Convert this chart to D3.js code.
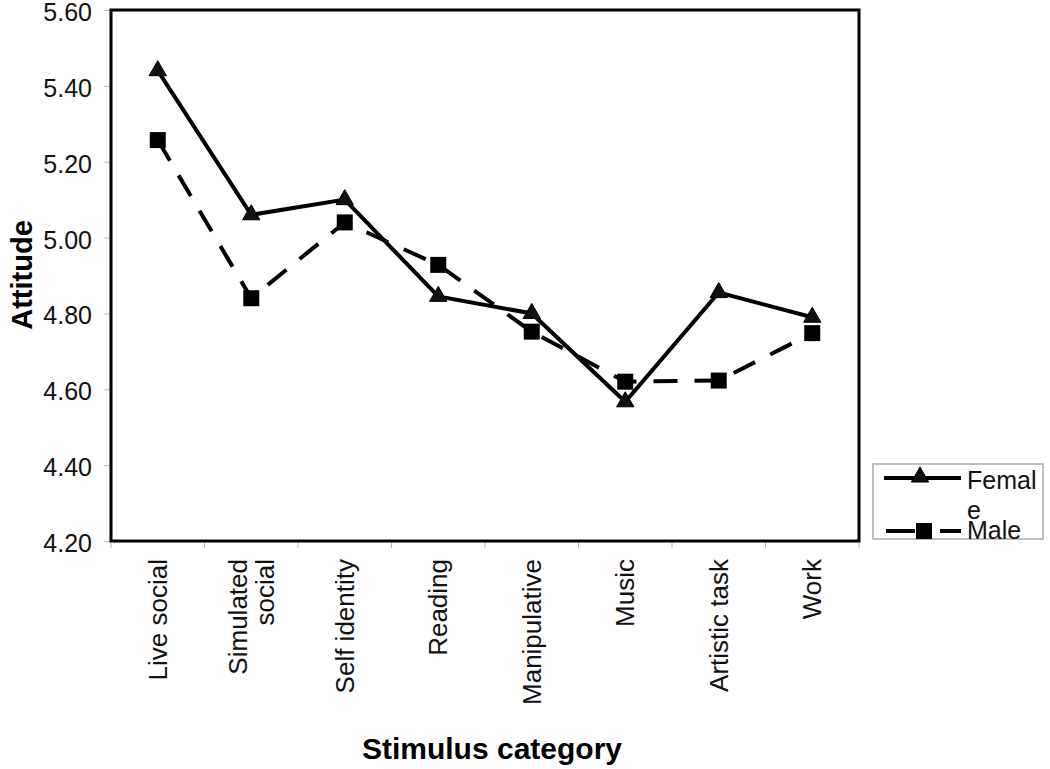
<!DOCTYPE html>
<html>
<head>
<meta charset="utf-8">
<script src="https://cdn.jsdelivr.net/npm/d3@7"></script>
<style>
  html, body { margin: 0; padding: 0; background: #fff; }
  svg { display: block; font-family: "Liberation Sans", Arial, sans-serif; }
</style>
</head>
<body>
<svg id="chart" width="1050" height="769"></svg>
<script>
const categories = [["Live social"], ["Simulated", "social"], ["Self identity"], ["Reading"], ["Manipulative"], ["Music"], ["Artistic task"], ["Work"]];
const categoryKeys = ["Live social", "Simulated social", "Self identity", "Reading", "Manipulative", "Music", "Artistic task", "Work"];
const femaleValues = [5.44, 5.06, 5.10, 4.845, 4.80, 4.567, 4.855, 4.79];
const maleValues = [5.257, 4.84, 5.04, 4.928, 4.752, 4.62, 4.623, 4.748];
const yTicks = [4.20, 4.40, 4.60, 4.80, 5.00, 5.20, 5.40, 5.60];
const seriesNames = ["Femal", "Male"];

const svg = d3.select("#chart");
const plot = { left: 111, top: 10, right: 859, bottom: 541 };

const x = d3.scaleBand().domain(categoryKeys).range([plot.left, plot.right]).padding(0);
const y = d3.scaleLinear().domain([4.2, 5.6]).range([plot.bottom, plot.top]);

// Y axis ticks and labels
const yAxis = d3.axisLeft(y).tickValues(yTicks).tickFormat(d3.format(".2f")).tickSize(7).tickPadding(12);
const gy = svg.append("g").attr("transform", `translate(${plot.left},0)`).call(yAxis);
gy.select(".domain").remove();
gy.selectAll(".tick line").attr("stroke", "#bbb").attr("stroke-width", 1);
gy.selectAll(".tick text").attr("font-size", 25).attr("fill", "#111").attr("dy", "0.42em")
  .attr("font-family", "'Liberation Sans', Arial, sans-serif");

// X axis ticks at band boundaries
const xAxis = d3.axisBottom(x).tickSize(0).tickFormat("");
const gx = svg.append("g").attr("transform", `translate(0,${plot.bottom})`).call(xAxis);
gx.select(".domain").remove();
gx.selectAll(".tick").remove();
const boundaries = categoryKeys.map(c => x(c)).concat([x(categoryKeys[categoryKeys.length - 1]) + x.bandwidth()]);
gx.selectAll("line.bt").data(boundaries).enter().append("line")
  .attr("x1", d => d).attr("x2", d => d).attr("y1", 0).attr("y2", 7)
  .attr("stroke", "#bbb").attr("stroke-width", 1);

// Category labels (rotated, wrapped)
const labelG = svg.append("g");
categories.forEach((lines, i) => {
  const cx = x(categoryKeys[i]) + x.bandwidth() / 2;
  const n = lines.length;
  const lh = 27;
  lines.forEach((ln, j) => {
    const off = (j - (n - 1) / 2) * lh;
    labelG.append("text")
      .attr("transform", `translate(${cx + off + 9},559) rotate(-90)`)
      .attr("text-anchor", "end")
      .attr("font-size", 26)
      .attr("fill", "#111")
      .text(ln);
  });
});

// Plot frame
svg.append("rect")
  .attr("x", plot.left).attr("y", plot.top)
  .attr("width", plot.right - plot.left).attr("height", plot.bottom - plot.top)
  .attr("fill", "none").attr("stroke", "#000").attr("stroke-width", 3);

// Lines
const line = d3.line().x((d, i) => x(categoryKeys[i]) + x.bandwidth() / 2).y(d => y(d));
svg.append("path").datum(maleValues).attr("d", line)
  .attr("fill", "none").attr("stroke", "#000").attr("stroke-width", 4)
  .attr("stroke-dasharray", "24,17");
svg.append("path").datum(femaleValues).attr("d", line)
  .attr("fill", "none").attr("stroke", "#000").attr("stroke-width", 4);

const tri = d3.symbol().type(d3.symbolTriangle).size(130);
const sq = d3.symbol().type(d3.symbolSquare).size(256);

svg.append("g").selectAll("path").data(maleValues).enter().append("path")
  .attr("d", sq)
  .attr("transform", (d, i) => `translate(${x(categoryKeys[i]) + x.bandwidth() / 2},${y(d)})`)
  .attr("fill", "#000");
svg.append("g").selectAll("path").data(femaleValues).enter().append("path")
  .attr("d", tri)
  .attr("transform", (d, i) => `translate(${x(categoryKeys[i]) + x.bandwidth() / 2},${y(d)})`)
  .attr("fill", "#111").attr("stroke", "#000").attr("stroke-width", 1);

// Axis titles
svg.append("text")
  .attr("transform", "translate(32,275) rotate(-90)")
  .attr("text-anchor", "middle")
  .attr("font-size", 29).attr("font-weight", "bold").attr("fill", "#000")
  .text("Attitude");
svg.append("text")
  .attr("x", 492).attr("y", 759)
  .attr("text-anchor", "middle")
  .attr("font-size", 30).attr("font-weight", "bold").attr("fill", "#000")
  .text("Stimulus category");

// Legend
const lg = svg.append("g");
lg.append("rect").attr("x", 873).attr("y", 464).attr("width", 170).attr("height", 75)
  .attr("fill", "#fff").attr("stroke", "#aaa").attr("stroke-width", 1.5);
// Female
lg.append("line").attr("x1", 884).attr("x2", 961).attr("y1", 478).attr("y2", 478)
  .attr("stroke", "#000").attr("stroke-width", 4);
lg.append("path").attr("d", tri).attr("transform", "translate(920,477)").attr("fill", "#111").attr("stroke", "#000");
lg.append("text").attr("x", 967).attr("y", 489).attr("font-size", 25).attr("fill", "#111").text(seriesNames[0]);
lg.append("text").attr("x", 967).attr("y", 519).attr("font-size", 25).attr("fill", "#111").text("e");
// Male
lg.append("line").attr("x1", 886).attr("x2", 961).attr("y1", 531).attr("y2", 531)
  .attr("stroke", "#000").attr("stroke-width", 4).attr("stroke-dasharray", "29,25,30");
lg.append("path").attr("d", sq).attr("transform", "translate(924,531)").attr("fill", "#000");
lg.append("text").attr("x", 967).attr("y", 539).attr("font-size", 25).attr("fill", "#111").text(seriesNames[1]);
</script>
</body>
</html>
